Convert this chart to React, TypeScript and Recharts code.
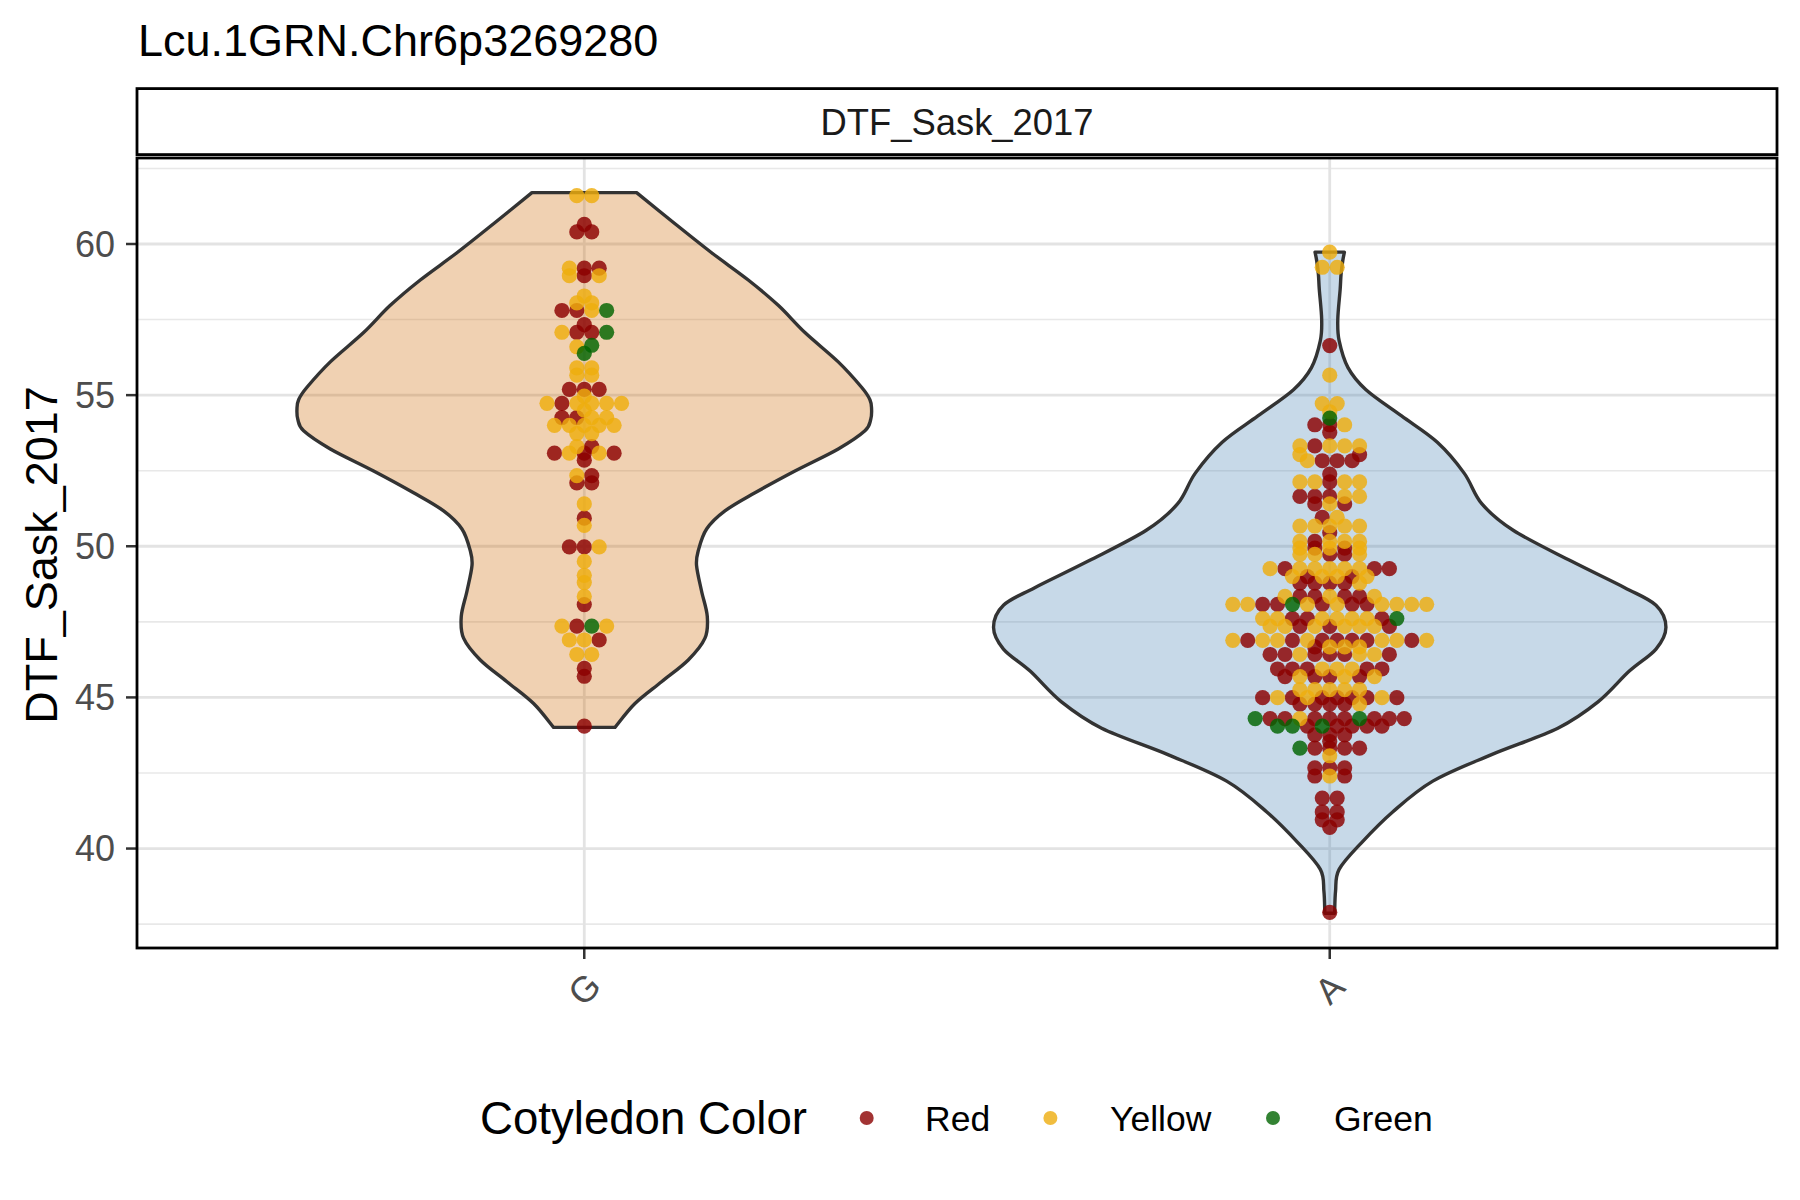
import React from "react";
import { ComposedChart, Scatter, XAxis, YAxis, CartesianGrid } from "recharts";

// categories on the x axis and their numeric slots
const categories = ["G", "A"];
const categoryPos = [1, 2];

// y axis
const majorTicks = [40, 45, 50, 55, 60];
const minorTicks = [37.5, 42.5, 47.5, 52.5, 57.5, 62.5];
const yDomain = [36.71, 62.845];

// violin profiles (y value, half width in x units), read top to bottom
const gViolinY = [61.7, 60.67, 59.71, 58.81, 57.97, 57.07, 56.1, 55.26, 54.85, 54.54, 54.2, 53.82, 53.22, 52.49, 51.77, 51.17, 50.57, 49.85, 49.37, 48.52, 47.68, 46.96, 46.24, 45.52, 44.8, 44.01];
const gViolinHalf = [0.0702, 0.1217, 0.1708, 0.22, 0.2602, 0.296, 0.3407, 0.372, 0.3832, 0.3854, 0.3843, 0.3765, 0.3407, 0.2826, 0.229, 0.1887, 0.1641, 0.1529, 0.1506, 0.1573, 0.165, 0.1619, 0.1395, 0.1037, 0.068, 0.0412];

const aViolinY = [59.73, 59.45, 59.0, 58.5, 57.5, 56.8, 55.91, 55.18, 54.31, 53.44, 52.42, 51.4, 50.53, 49.51, 48.63, 48.05, 47.32, 46.6, 45.87, 44.85, 43.98, 43.1, 42.23, 41.21, 40.19, 39.31, 38.59, 37.86];
const aViolinHalf = [0.0197, 0.0175, 0.0152, 0.014, 0.0108, 0.0126, 0.0245, 0.0486, 0.0964, 0.1443, 0.1803, 0.2042, 0.2461, 0.3239, 0.3957, 0.4377, 0.451, 0.4377, 0.4019, 0.3599, 0.306, 0.2163, 0.1383, 0.0844, 0.0425, 0.0126, 0.0078, 0.0066];

// swarm points: [offset in dot widths, DTF value]
const gRed = [
  [0, 60.65], [-0.5, 60.4], [0.5, 60.4], [0, 59.2], [1, 59.2], [0, 58.95],
  [-1.5, 57.8], [-0.5, 57.8], [0, 57.33], [-0.5, 57.08], [0.5, 57.08],
  [-1, 55.19], [0, 55.19], [1, 55.19], [-1.5, 54.73], [-1.5, 54.26], [-0.5, 54.26],
  [0.5, 53.3], [-2, 53.08], [0, 53.08], [2, 53.08], [0, 52.85],
  [0.5, 52.34], [-0.5, 52.1], [0.5, 52.1], [0, 50.93], [-1, 49.98], [0, 49.98],
  [0, 48.07], [-0.5, 47.36], [1, 46.9], [0, 45.96], [0, 45.7], [0, 44.05],
];
const gYellow = [
  [-0.5, 61.6], [0.5, 61.6], [-1, 59.2], [-1, 58.95], [1, 58.95],
  [0, 58.28], [-0.5, 58.05], [0.5, 58.05], [0.5, 57.8], [-1.5, 57.08], [-0.5, 56.6],
  [-0.5, 55.9], [0.5, 55.9], [-0.5, 55.66], [0.5, 55.66], [0, 54.97],
  [-2.5, 54.73], [-0.5, 54.73], [0.5, 54.73], [1.5, 54.73], [2.5, 54.73], [0, 54.5],
  [0.5, 54.26], [1.5, 54.26], [-2, 54.0], [-1, 54.0], [0, 54.0], [1, 54.0], [2, 54.0],
  [-0.5, 53.73], [0.5, 53.73], [-0.5, 53.3], [-1, 53.08], [1, 53.08], [-0.5, 52.34],
  [0, 51.4], [0, 50.69], [1, 49.98], [0, 49.5], [0, 49.04], [0, 48.8], [0, 48.34],
  [-1.5, 47.36], [1.5, 47.36], [-1, 46.9], [0, 46.9], [-0.5, 46.42], [0.5, 46.42],
];
const gGreen = [[1.5, 57.8], [1.5, 57.08], [0.5, 56.65], [0, 56.38], [0.5, 47.36]];

const aRed = [
  [0, 56.64], [-1, 54.02], [0, 54.02], [0, 53.76], [-1, 53.32], [2, 53.03],
  [-0.5, 52.83], [0.5, 52.83], [1.5, 52.83], [0, 52.39], [0, 52.13],
  [-2, 51.65], [-1, 51.65], [0, 51.65], [-1, 51.4], [1, 51.4], [-0.5, 50.96], [0, 50.45],
  [-1, 50.16], [-1, 49.94], [1, 49.94], [0, 49.73], [1, 49.73],
  [-3, 49.26], [3, 49.26], [4, 49.26], [-1.5, 49.0], [1.5, 49.0],
  [-2, 48.78], [-1, 48.78], [0, 48.78], [1, 48.78],
  [-2, 48.34], [-1, 48.34], [1, 48.34], [2, 48.34],
  [-4.5, 48.08], [-3.5, 48.08], [-0.5, 48.08], [1.5, 48.08], [2.5, 48.08],
  [-2.5, 47.61], [-1.5, 47.61], [3.5, 47.61], [-2, 47.35], [0, 47.35], [4, 47.35],
  [-5.5, 46.89], [-2.5, 46.89], [-0.5, 46.89], [0.5, 46.89], [1.5, 46.89], [2.5, 46.89], [5.5, 46.89],
  [-1, 46.67], [-4, 46.42], [-3, 46.42], [-1, 46.42], [0, 46.42], [1, 46.42], [4, 46.42],
  [-3.5, 45.94], [-2.5, 45.94], [-1.5, 45.94], [2.5, 45.94], [3.5, 45.94],
  [-3, 45.69], [-1, 45.69], [0, 45.69], [2, 45.69],
  [-4.5, 44.99], [-2.5, 44.99], [-0.5, 44.99], [0.5, 44.99], [1.5, 44.99], [2.5, 44.99], [4.5, 44.99],
  [-2, 44.78], [-1, 44.78], [0, 44.78], [1, 44.78],
  [-4, 44.3], [-3, 44.3], [-1, 44.3], [0, 44.3], [1, 44.3], [3, 44.3], [4, 44.3], [5, 44.3],
  [-1.5, 44.05], [0.5, 44.05], [1.5, 44.05], [2.5, 44.05], [3.5, 44.05],
  [-1, 43.76], [0, 43.76], [1, 43.76], [0, 43.54], [-1, 43.32], [0, 43.32], [1, 43.32], [2, 43.32],
  [-1, 42.67], [0, 42.67], [1, 42.67], [-1, 42.4], [1, 42.4],
  [-0.5, 41.67], [0.5, 41.67], [-0.5, 41.21], [0.5, 41.21], [-0.5, 40.95], [0.5, 40.95],
  [0, 40.7], [0, 37.89],
];
const aYellow = [
  [0, 59.73], [-0.5, 59.23], [0.5, 59.23], [0, 55.66], [-0.5, 54.72], [0.5, 54.72], [0, 54.45], [1, 54.02],
  [-2, 53.32], [0, 53.32], [1, 53.32], [2, 53.32], [-2, 53.03], [-1.5, 52.83],
  [-2, 52.13], [-1, 52.13], [1, 52.13], [2, 52.13], [1, 51.65], [2, 51.65], [0, 51.4], [0.5, 50.96],
  [-2, 50.67], [-1, 50.67], [0, 50.67], [1, 50.67], [2, 50.67],
  [-2, 50.16], [0, 50.16], [1, 50.16], [2, 50.16], [-2, 49.94], [0, 49.94], [2, 49.94],
  [-2, 49.73], [-1, 49.73], [2, 49.73],
  [-4, 49.26], [-2, 49.26], [-1, 49.26], [0, 49.26], [1, 49.26], [2, 49.26],
  [-2.5, 49.0], [-0.5, 49.0], [0.5, 49.0], [2.5, 49.0], [2, 48.78], [-3, 48.34], [0, 48.34], [3, 48.34],
  [-6.5, 48.08], [-5.5, 48.08], [-1.5, 48.08], [0.5, 48.08], [3.5, 48.08], [4.5, 48.08], [5.5, 48.08], [6.5, 48.08],
  [-4.5, 47.61], [-3.5, 47.61], [-0.5, 47.61], [0.5, 47.61], [1.5, 47.61], [2.5, 47.61],
  [-4, 47.35], [-3, 47.35], [-1, 47.35], [1, 47.35], [2, 47.35], [3, 47.35],
  [-6.5, 46.89], [-4.5, 46.89], [-3.5, 46.89], [-1.5, 46.89], [3.5, 46.89], [4.5, 46.89], [6.5, 46.89],
  [0, 46.67], [1, 46.67], [2, 46.67], [-2, 46.42], [2, 46.42], [3, 46.42],
  [-0.5, 45.94], [0.5, 45.94], [1.5, 45.94], [-2, 45.69], [1, 45.69], [3, 45.69],
  [-2, 45.26], [-1, 45.26], [0, 45.26], [1, 45.26], [2, 45.26],
  [-3.5, 44.99], [-1.5, 44.99], [3.5, 44.99], [2, 44.78], [-2, 44.3], [0, 43.07], [0, 42.4],
];
const aGreen = [
  [0, 54.24], [-2.5, 48.08], [4.5, 47.61], [-5, 44.3], [2, 44.3],
  [-3.5, 44.05], [-2.5, 44.05], [-0.5, 44.05], [-2, 43.32],
];

// legend
const legendLabels = ["Red", "Yellow", "Green"];
const pointColors = ["#8B0000", "#EEAD0E", "#006400"];
const violinFills = ["#CD6600", "#4682B4"];

const FONT = '"Liberation Sans", Arial, Helvetica, sans-serif';
const DOT_STEP = 0.02;
const DOT_R = 7.6;

type Pt = { x: number; y: number };

const toPoints = (center: number, list: number[][]): Pt[] =>
  list.map(([k, v]) => ({ x: center + k * DOT_STEP, y: v }));

const toOutline = (center: number, ys: number[], halves: number[]): Pt[] => {
  const right = ys.map((y, i) => ({ x: center + halves[i], y }));
  const left = ys.map((y, i) => ({ x: center - halves[i], y })).reverse();
  return [...right, ...left];
};

const smooth = (p: Pt[]) => {
  let d = "";
  for (let i = 0; i < p.length - 1; i++) {
    const p0 = p[i - 1] || p[i];
    const p1 = p[i];
    const p2 = p[i + 1];
    const p3 = p[i + 2] || p[i + 1];
    const c1x = p1.x + (p2.x - p0.x) / 6;
    const c1y = p1.y + (p2.y - p0.y) / 6;
    const c2x = p2.x - (p3.x - p1.x) / 6;
    const c2y = p2.y - (p3.y - p1.y) / 6;
    d += `C${c1x},${c1y} ${c2x},${c2y} ${p2.x},${p2.y}`;
  }
  return d;
};

const ViolinShape = (props: any) => {
  const pts: Pt[] = props.points || [];
  if (pts.length < 4) return null;
  const n = pts.length / 2;
  const right = pts.slice(0, n);
  const left = pts.slice(n);
  const d =
    `M${right[0].x},${right[0].y}` + smooth(right) +
    `L${left[0].x},${left[0].y}` + smooth(left) + "Z";
  return (
    <path d={d} fill={props.violinFill} fillOpacity={0.3} stroke="#333333" strokeWidth={3.4} strokeLinejoin="round" />
  );
};

const XTick = (props: any) => {
  const { x, y, payload } = props;
  const label = categories[categoryPos.indexOf(payload.value)];
  const cy = y + 30;
  return (
    <text x={x} y={cy} transform={`rotate(-45 ${x} ${cy})`} textAnchor="middle" dominantBaseline="central"
      fontSize={36} fill="#4D4D4D" fontFamily={FONT}>
      {label}
    </text>
  );
};

const dotShape = (color: string) => (p: any) =>
  <circle cx={p.cx} cy={p.cy} r={DOT_R} fill={color} fillOpacity={0.82} />;

const noShape = () => <g />;

const groups = [
  { center: categoryPos[0], outline: toOutline(categoryPos[0], gViolinY, gViolinHalf), pts: [gRed, gYellow, gGreen] },
  { center: categoryPos[1], outline: toOutline(categoryPos[1], aViolinY, aViolinHalf), pts: [aRed, aYellow, aGreen] },
];

const legendDotX = [866.7, 1050.4, 1273];
const legendTextX = [925, 1110, 1334];

export default function App() {
  return (
    <div style={{ position: "absolute", left: 0, top: 0, width: 1800, height: 1200, background: "#fff", fontFamily: FONT }}>
      <ComposedChart width={1800} height={1200} margin={{ top: 158, right: 23, bottom: 0, left: 0 }}>
        <CartesianGrid horizontalValues={minorTicks} vertical={false} stroke="#E8E8E8" strokeWidth={1.6} />
        <CartesianGrid horizontalValues={majorTicks} verticalValues={categoryPos} stroke="#E3E3E3" strokeWidth={2.8} />
        <XAxis type="number" dataKey="x" domain={[0.4, 2.6]} ticks={categoryPos} allowDataOverflow interval={0}
          axisLine={false} tickLine={{ stroke: "#333333", strokeWidth: 2.5 }} tickSize={11} tickMargin={0}
          height={252} tick={<XTick />} />
        <YAxis type="number" dataKey="y" domain={yDomain} ticks={majorTicks} allowDataOverflow interval={0}
          width={137} axisLine={false} tickLine={{ stroke: "#333333", strokeWidth: 2.5 }} tickSize={11} tickMargin={11}
          tick={{ fontSize: 36, fill: "#4D4D4D", fontFamily: FONT }} />
        {groups.map((g, gi) => (
          <Scatter key={`v${gi}`} data={g.outline} shape={noShape} line={<ViolinShape violinFill={violinFills[gi]} />}
            isAnimationActive={false} />
        ))}
        {groups.map((g, gi) =>
          g.pts.map((list, ci) => (
            <Scatter key={`p${gi}-${ci}`} name={legendLabels[ci]} data={toPoints(g.center, list)}
              shape={dotShape(pointColors[ci])} isAnimationActive={false} />
          ))
        )}
      </ComposedChart>
      <svg width={1800} height={1200} style={{ position: "absolute", left: 0, top: 0, pointerEvents: "none" }}>
        <text x={138} y={55.5} fontSize={45} fill="#000" fontFamily={FONT}>Lcu.1GRN.Chr6p3269280</text>
        <rect x={137} y={88.6} width={1640} height={66} fill="none" stroke="#000" strokeWidth={2.8} />
        <text x={957} y={134.5} fontSize={36.4} textAnchor="middle" fill="#1A1A1A" fontFamily={FONT}>DTF_Sask_2017</text>
        <rect x={137} y={158} width={1640} height={790} fill="none" stroke="#000" strokeWidth={2.8} />
        <text x={57} y={555} fontSize={45} textAnchor="middle" transform="rotate(-90 57 555)" fill="#000" fontFamily={FONT}>
          DTF_Sask_2017
        </text>
        <text x={480} y={1134} fontSize={45.6} fill="#000" fontFamily={FONT}>Cotyledon Color</text>
        {legendLabels.map((l, i) => (
          <g key={l}>
            <circle cx={legendDotX[i]} cy={1118} r={7} fill={pointColors[i]} fillOpacity={0.8} />
            <text x={legendTextX[i]} y={1130.5} fontSize={35.5} fill="#000" fontFamily={FONT}>{l}</text>
          </g>
        ))}
      </svg>
    </div>
  );
}
